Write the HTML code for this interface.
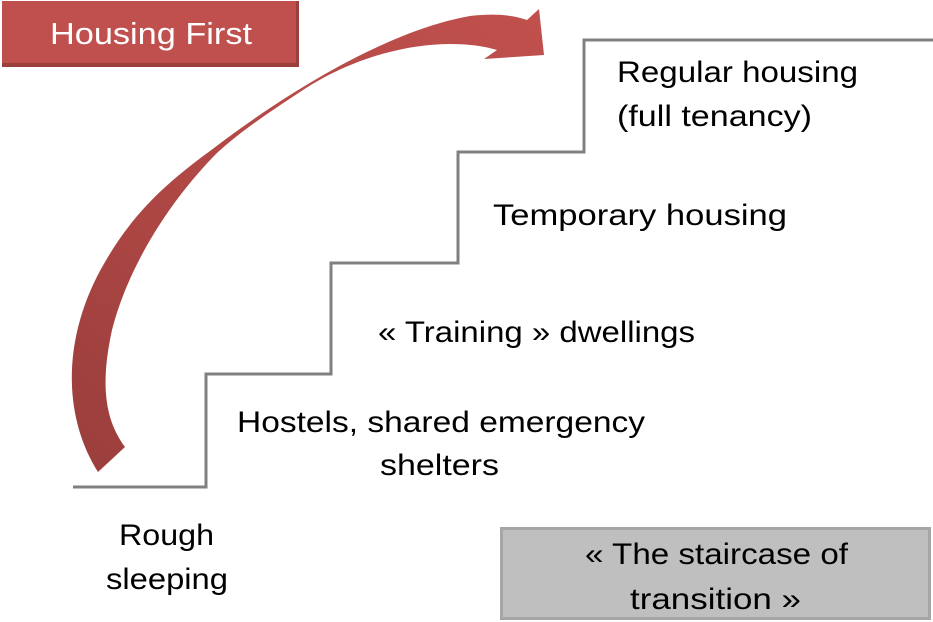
<!DOCTYPE html>
<html><head><meta charset="utf-8"><style>
html,body{margin:0;padding:0;background:#fff;}
svg{display:block;}
text{font-family:"Liberation Sans",sans-serif;}
</style></head><body>
<svg width="933" height="622" viewBox="0 0 933 622" xmlns="http://www.w3.org/2000/svg">
<defs>
<linearGradient id="g" x1="0" y1="1" x2="1" y2="0">
<stop offset="0" stop-color="#9a3e3c"/>
<stop offset="0.45" stop-color="#b04845"/>
<stop offset="1" stop-color="#c0504d"/>
</linearGradient>
</defs>
<rect x="2" y="1" width="297" height="66" fill="#c0504d"/>
<rect x="2" y="63" width="297" height="4" fill="#9b3f3d"/>
<rect x="296" y="1" width="3" height="66" fill="#9b3f3d"/>
<text x="151" y="44" font-size="31" fill="#fff" text-anchor="middle" textLength="202" lengthAdjust="spacingAndGlyphs">Housing First</text>

<path d="M98,472 C62,415 62,335 105,262 C135,210 170,180 214,148 C290,90 390,30 470,16 C495,13 512,15 527,20 L539,9 L544,55 L484,59 L497,50 C450,36 370,45 300,92 C265,115 240,132 218,152 C175,195 130,260 112,330 C100,385 105,420 125,447 Z" fill="url(#g)"/>

<path d="M73,487 H206 V374 H331 V263 H458 V152 H584 V40 H933" fill="none" stroke="#808080" stroke-width="3"/>

<g font-size="30" fill="#000">
<text x="617" y="82" textLength="241" lengthAdjust="spacingAndGlyphs">Regular housing</text>
<text x="617" y="126" textLength="195" lengthAdjust="spacingAndGlyphs">(full tenancy)</text>
<text x="493" y="225" textLength="294" lengthAdjust="spacingAndGlyphs">Temporary housing</text>
<text x="378" y="342" textLength="317" lengthAdjust="spacingAndGlyphs">« Training » dwellings</text>
<text x="237" y="432" textLength="408" lengthAdjust="spacingAndGlyphs">Hostels, shared emergency</text>
<text x="380" y="475" textLength="119" lengthAdjust="spacingAndGlyphs">shelters</text>
<text x="119" y="545" textLength="95" lengthAdjust="spacingAndGlyphs">Rough</text>
<text x="106" y="589" textLength="122" lengthAdjust="spacingAndGlyphs">sleeping</text>
</g>

<rect x="501.5" y="528.5" width="428" height="90" fill="#bfbfbf" stroke="#a6a6a6" stroke-width="3"/>
<text x="585" y="564" font-size="30" textLength="263" lengthAdjust="spacingAndGlyphs">« The staircase of</text>
<text x="630" y="609" font-size="30" textLength="171" lengthAdjust="spacingAndGlyphs">transition »</text>
</svg>
</body></html>
